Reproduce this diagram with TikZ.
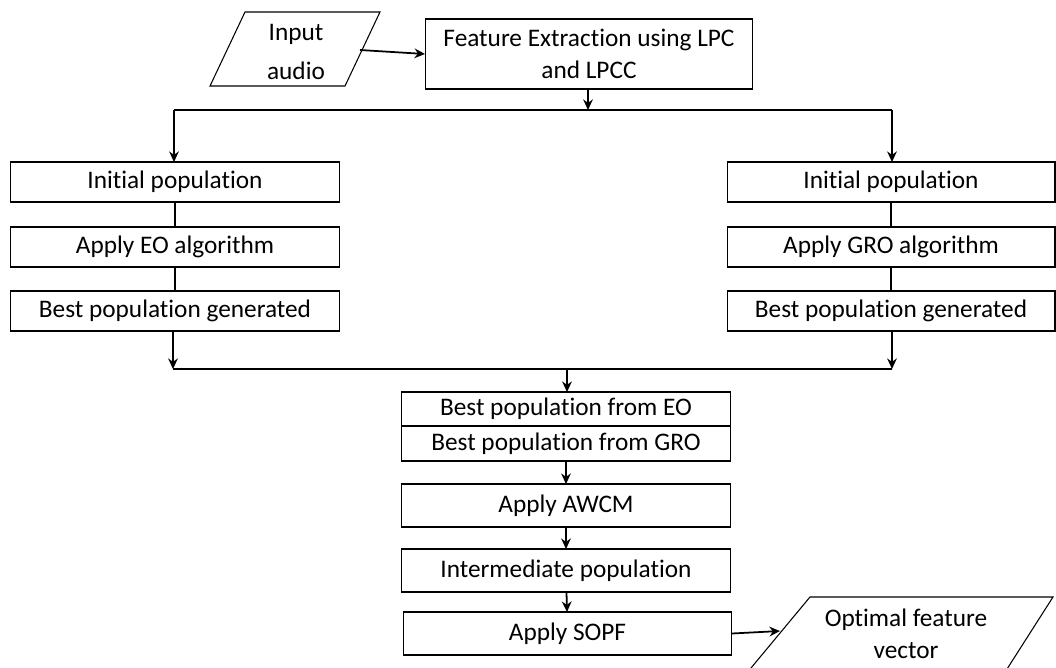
\documentclass[tikz,border=0pt]{standalone}
\usepackage{fontspec}
\setmainfont{Carlito}[Ligatures=NoCommon]
\usepackage{tikz}
\usetikzlibrary{arrows.meta}

\tikzset{
  procbox/.style={draw, line width=0.6pt, inner sep=0pt, outer sep=0pt, minimum width=6.58cm,
    minimum height=0.8cm, align=center, font=\fontsize{14.4}{18}\selectfont},
  iotext/.style={inner sep=0pt, align=center, font=\fontsize{14.4}{22}\selectfont},
  flowline/.style={line width=1pt},
  flowarrow/.style={flowline, -{Stealth[length=6pt,width=5.5pt]}},
}

\begin{document}
\begin{tikzpicture}[x=0.02cm, y=-0.02cm]
    \useasboundingbox (0,0) rectangle (1056,667);
    \clip (0,0) rectangle (1056,667);

    % input and feature extraction
    \draw[line width=0.6pt] (245,12) -- (380,12) -- (345,86) -- (210,86) -- cycle;
    \node[iotext] (audio) at (296,52) {Input\\audio};
    \coordinate (audioout) at (360,50);
    \node[procbox, minimum width=6.56cm, minimum height=1.4cm] (feat) at (589,54)
        {Feature Extraction using LPC\\and LPCC};

    % EO branch
    \node[procbox] (initeo) at (175,182) {Initial population};
    \node[procbox] (applyeo) at (175,247) {Apply EO algorithm};
    \node[procbox] (besteo) at (175,311) {Best population generated};

    % GRO branch
    \node[procbox, minimum width=6.56cm] (initgro) at (891,182) {Initial population};
    \node[procbox, minimum width=6.56cm] (applygro) at (891,247) {Apply GRO algorithm};
    \node[procbox, minimum width=6.56cm] (bestgro) at (891,311) {Best population generated};

    % merged part
    \node[procbox, minimum width=6.6cm, minimum height=0.68cm] (fromeo) at (566,409) {Best population from EO};
    \node[procbox, minimum width=6.6cm, minimum height=0.7cm, anchor=north] (fromgro) at (fromeo.south) {Best population from GRO};
    \node[procbox, minimum width=6.6cm, minimum height=0.86cm] (awcm) at (566,505.5) {Apply AWCM};
    \node[procbox, minimum width=6.6cm, minimum height=0.86cm] (inter) at (566,570.5) {Intermediate population};
    \node[procbox, minimum width=6.58cm, minimum height=0.86cm] (sopf) at (567.5,633.5) {Apply SOPF};

    % output
    \draw[line width=0.6pt] (810,597) -- (1053,597) -- (1000,680) -- (741,680) -- cycle;
    \node[iotext, font=\fontsize{14.4}{18}\selectfont] (optvec) at (906,634) {Optimal feature\\vector};
    \coordinate (optin) at (780,631);

    % split and join points
    \coordinate (splitmid) at (588,110);
    \coordinate (splitl) at (174,110);
    \coordinate (splitr) at (892,110);
    \coordinate (joinl) at (173,369);
    \coordinate (joinr) at (892,369);
    \coordinate (joinmid) at (567,369);

    % connectors
    \draw[flowarrow] (audioout) -- (feat.west);
    \draw[flowarrow] (feat.south -| splitmid) -- (splitmid);
    \draw[flowline] (splitl) -- (splitr);
    \draw[flowarrow] (splitl) -- (initeo.north -| splitl);
    \draw[flowarrow] (splitr) -- (initgro.north -| splitr);
    \draw[flowline] (initeo) -- (applyeo);
    \draw[flowline] (applyeo) -- (besteo);
    \draw[flowline] (initgro) -- (applygro);
    \draw[flowline] (applygro) -- (bestgro);
    \draw[flowarrow] (besteo.south -| joinl) -- (joinl);
    \draw[flowarrow] (bestgro.south -| joinr) -- (joinr);
    \draw[flowline] (joinl) -- (joinr);
    \draw[flowarrow] (joinmid) -- (fromeo.north -| joinmid);
    \draw[flowarrow] (fromgro) -- (awcm);
    \draw[flowarrow] (awcm) -- (inter);
    \draw[flowarrow] (inter) -- (sopf);
    \draw[flowarrow] (sopf.east) -- (optin);
\end{tikzpicture}
\end{document}
